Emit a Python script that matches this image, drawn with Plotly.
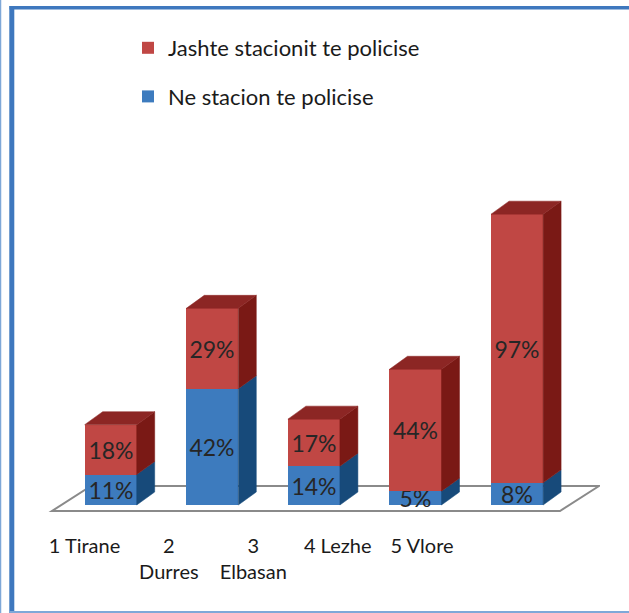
import plotly.graph_objects as go

# ---- data ----
categories = ["1 Tirane", "2 Durres", "3 Elbasan", "4 Lezhe", "5 Vlore"]
tick_labels = ["1 Tirane", "2<br>Durres", "3<br>Elbasan", "4 Lezhe", "5 Vlore"]
ne_stacion = [11, 42, 14, 5, 8]          # Ne stacion te policise
jashte_stacionit = [18, 29, 17, 44, 97]  # Jashte stacionit te policise

# ---- styling ----
W, H = 629, 613
ML, MR, MT, MB = 40, 29, 130, 93
FONT = "Lato"
TXT = "#262626"

BLUE_FRONT, BLUE_SIDE = "#3D7BBE", "#174A7A"
RED_FRONT, RED_SIDE, RED_TOP = "#C04744", "#7A1915", "#8C2624"

BAR_W = 0.512          # bar width in category units
DX, DY = 0.177, 4.69   # depth offset of the 3D boxes (x units, y units)
X_RANGE = [-0.696, 4.816]
Y_RANGE = [-5.415, 135.38]
X2_RANGE = [-0.527, 6.108]

x = list(range(len(categories)))

fig = go.Figure()

fig.add_trace(go.Bar(
    x=x, y=ne_stacion, width=BAR_W, name="Ne stacion te policise",
    marker=dict(color=BLUE_FRONT, line=dict(width=0)),
    text=[f"{v}%" for v in ne_stacion], textposition="inside",
    insidetextanchor="middle", constraintext="none", textangle=0,
    textfont=dict(family=FONT, size=23, color=TXT),
    legendgroup="ne", legendrank=2, hoverinfo="skip",
))
fig.add_trace(go.Bar(
    x=x, y=jashte_stacionit, width=BAR_W, name="Jashte stacionit te policise",
    marker=dict(color=RED_FRONT, line=dict(width=0)),
    text=[f"{v}%" for v in jashte_stacionit], textposition="inside",
    insidetextanchor="middle", constraintext="none", textangle=0,
    textfont=dict(family=FONT, size=23, color=TXT),
    legendgroup="jashte", legendrank=1, hoverinfo="skip",
))

# category axis carrying the labels along the floor edge
fig.add_trace(go.Scatter(
    x=x, y=[0] * len(x), xaxis="x2", yaxis="y", mode="markers",
    marker=dict(opacity=0), showlegend=False, hoverinfo="skip",
))

shapes = []


def poly(pts, fill, line_color=None, width=0, layer="above"):
    path = "M " + " L ".join(f"{px},{py}" for px, py in pts) + " Z"
    return dict(type="path", path=path, xref="x", yref="y", layer=layer,
                fillcolor=fill,
                line=dict(color=line_color or fill, width=width))


# floor
fl_front = -0.44 * DX
fl_back = 1.73 * DX
fy_front = -0.46 * DY
fy_back = 1.46 * DY
floor = [(-0.5 + fl_front, fy_front), (4.5 + fl_front, fy_front),
         (4.5 + fl_back, fy_back), (-0.5 + fl_back, fy_back)]
shapes.append(poly(floor, "rgba(255,255,255,0)", "#8A8A8A", 2, layer="below"))

# side and top faces for each stacked box
for i, (b, r) in enumerate(zip(ne_stacion, jashte_stacionit)):
    xl, xr = i - BAR_W / 2, i + BAR_W / 2
    segments = [(0, b, BLUE_SIDE), (b, b + r, RED_SIDE)]
    for y0, y1, col in segments:
        shapes.append(poly([(xr, y0), (xr + DX, y0 + DY),
                            (xr + DX, y1 + DY), (xr, y1)], col, width=0.5))
    top = b + r
    shapes.append(poly([(xl, top), (xl + DX, top + DY),
                        (xr + DX, top + DY), (xr, top)], RED_TOP, width=0.5))


# frame around the figure (pixel positions converted to paper units)
def px(xp):
    return (xp - ML) / (W - ML - MR)


def py(yp):
    return (H - MB - yp) / (H - MT - MB)


frame = [
    dict(x0=px(0.5), x1=px(0.5), y0=py(0), y1=py(H), color="#7FA8D8", w=1.5),
    dict(x0=px(11.8), x1=px(11.8), y0=py(6), y1=py(H), color="#3E78BE", w=5),
    dict(x0=px(9.5), x1=px(W), y0=py(7.8), y1=py(7.8), color="#3E78BE", w=3.5),
    dict(x0=px(9.5), x1=px(W), y0=py(612), y1=py(612), color="#7FA8D8", w=2),
]
for f in frame:
    shapes.append(dict(type="line", xref="paper", yref="paper",
                       x0=f["x0"], x1=f["x1"], y0=f["y0"], y1=f["y1"],
                       line=dict(color=f["color"], width=f["w"]), layer="above"))

fig.update_layout(
    width=W, height=H,
    margin=dict(l=ML, r=MR, t=MT, b=MB, pad=0),
    paper_bgcolor="white", plot_bgcolor="white",
    barmode="stack", bargap=0,
    font=dict(family=FONT, color=TXT),
    shapes=shapes,
    showlegend=True,
    legend=dict(
        x=px(128), y=py(27), xanchor="left", yanchor="top",
        traceorder="grouped", tracegroupgap=17,
        font=dict(family=FONT, size=22, color="#1A1A1A"),
        bgcolor="rgba(0,0,0,0)", borderwidth=0,
    ),
    xaxis=dict(range=X_RANGE, visible=False, fixedrange=True),
    xaxis2=dict(range=X2_RANGE, overlaying="x", anchor="y", side="bottom",
                tickmode="array", tickvals=x, ticktext=tick_labels,
                showgrid=False, zeroline=False, showline=False, ticks="",
                ticklabelstandoff=12,
                tickfont=dict(family=FONT, size=20, color="#1A1A1A"),
                fixedrange=True),
    yaxis=dict(range=Y_RANGE, visible=False, fixedrange=True),
)

fig.write_html("out.html", config={"displayModeBar": False})
